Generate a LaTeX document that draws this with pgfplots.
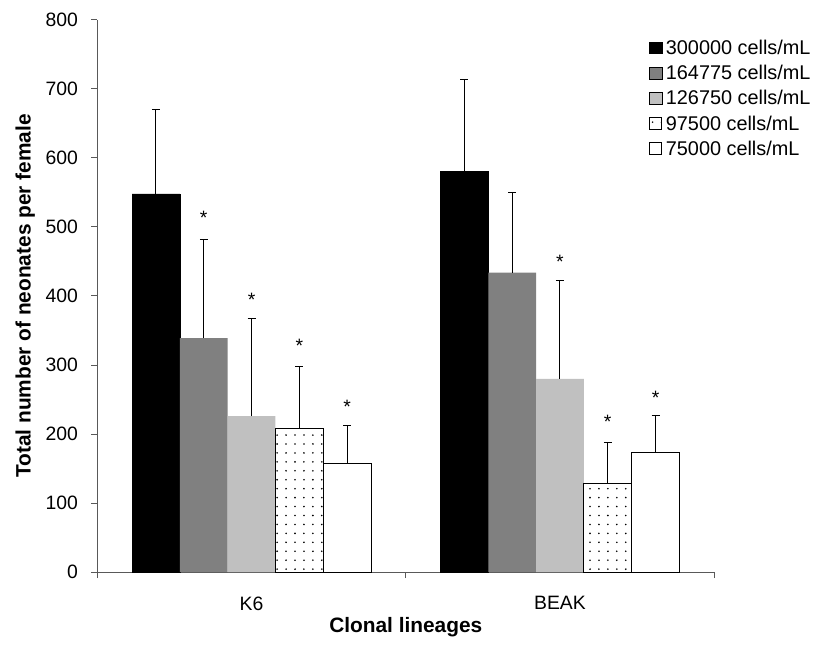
\documentclass[border=0pt]{standalone}
\usepackage{fontspec}
\setmainfont{Liberation Sans}
\usepackage{pgfplots}
\pgfplotsset{compat=1.18}
\usetikzlibrary{patterns.meta}
\definecolor{midgray}{RGB}{128,128,128}
\definecolor{lightgray}{RGB}{192,192,192}
\begin{document}
\begin{tikzpicture}
\begin{axis}[
    name=ax,
    scale only axis, width=621pt, height=556pt,
    ybar=0pt, bar width=0.155,
    xmin=-0.5, xmax=1.5, ymin=0, ymax=800,
    xtick={-0.5,0.5,1.5}, x tick label as interval, xticklabels={K6,BEAK},
    ytick={0,100,...,800},
    axis x line=bottom, axis y line=left,
    axis line style={-, black!65, line width=1pt},
    tick align=outside, major tick length=6pt,
    tick style={black!65, line width=1pt},
    font=\fontsize{19.5}{23}\selectfont,
    /pgf/number format/assume math mode=true,
    xticklabel style={yshift=-15pt},
    yticklabel style={xshift=-10pt},
    xlabel={\bfseries\fontsize{21}{24}\selectfont Clonal lineages},
    ylabel={\bfseries\fontsize{21}{24}\selectfont Total number of neonates per female},
    xlabel style={yshift=0pt},
    ylabel style={yshift=4pt},
    legend image code/.code={\draw[#1] (0pt,-6pt) rectangle (12.5pt,6pt);},
    legend style={at={(rel axis cs:0.894,0.968)}, anchor=north west, draw=none,
        fill=none, inner sep=0pt, row sep=5.5pt,
        font=\fontsize{20}{23}\selectfont,
        /tikz/every even column/.append style={column sep=0pt},
        nodes={inner xsep=3.5pt}},
    legend cell align=left,
    error bars/y dir=plus, error bars/y explicit,
    error bars/error mark options={rotate=90, black, line width=1pt, mark size=4pt},
    error bars/error bar style={black, line width=1pt},
]
\addplot[fill=black, draw=black, bar shift=-0.31] coordinates {(0,548) +- (0,122) (1,581) +- (0,132)};
\addlegendentry{300000 cells/mL}
\addplot[fill=midgray, draw=none, bar shift=-0.155] coordinates {(0,339) +- (0,143) (1,434) +- (0,116)};
\addlegendentry{164775 cells/mL}
\addplot[fill=lightgray, draw=none, bar shift=0] coordinates {(0,226) +- (0,141) (1,280) +- (0,142)};
\addlegendentry{126750 cells/mL}
\addplot[draw=black, line width=1pt, pattern={Dots[distance=9pt, radius=0.9pt]}, bar shift=0.155] coordinates {(0,208) +- (0,90) (1,128) +- (0,60)};
\addlegendentry{97500 cells/mL}
\addplot[fill=white, draw=black, line width=1pt, bar shift=0.31] coordinates {(0,157) +- (0,55) (1,173) +- (0,54)};
\addlegendentry{75000 cells/mL}
\begin{scope}[every node/.style={anchor=north, inner sep=0pt, font=\fontsize{19.5}{23}\selectfont}]
\node at (axis cs:-0.155,523) {*};
\node at (axis cs:0,404) {*};
\node at (axis cs:0.155,338) {*};
\node at (axis cs:0.31,250) {*};
\node at (axis cs:1,460) {*};
\node at (axis cs:1.155,227) {*};
\node at (axis cs:1.31,262) {*};
\end{scope}
\end{axis}
\path (ax.south west) ++(-98pt,-78pt);
\path (ax.north east) ++(95pt,20pt);
\end{tikzpicture}
\end{document}
